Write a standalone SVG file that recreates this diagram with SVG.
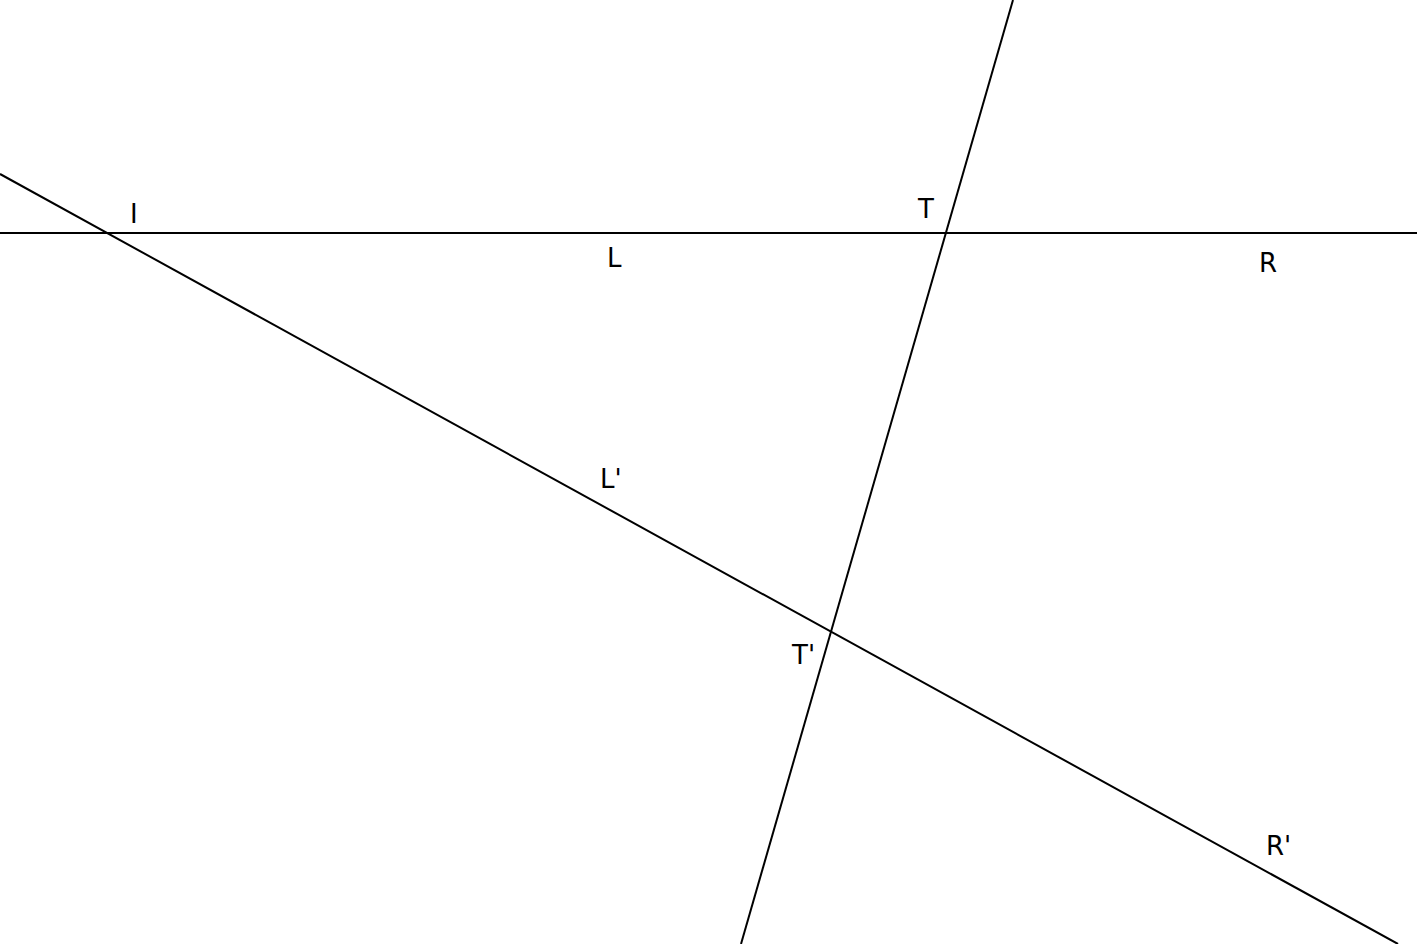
<svg xmlns="http://www.w3.org/2000/svg" width="1417" height="944" viewBox="0 0 1417 944">
<style>
.ln{stroke:#000;stroke-width:2;fill:none}
.lb{font-family:"DejaVu Sans",sans-serif;font-size:26px;fill:#000}
</style>
<rect width="1417" height="944" fill="#fff"/>
<g id="lines">
<line class="ln" x1="0" y1="233" x2="1417" y2="233"/>
<line class="ln" x1="0" y1="174" x2="1398" y2="944"/>
<line class="ln" x1="1013" y1="0" x2="741" y2="944"/>
</g>
<g id="labels">
<text class="lb" x="130" y="223">I</text>
<text class="lb" x="918" y="218">T</text>
<text class="lb" x="607" y="267">L</text>
<text class="lb" x="1259" y="272">R</text>
<text class="lb" x="600" y="488">L'</text>
<text class="lb" x="792" y="664">T'</text>
<text class="lb" x="1266" y="855">R'</text>
</g>
</svg>
